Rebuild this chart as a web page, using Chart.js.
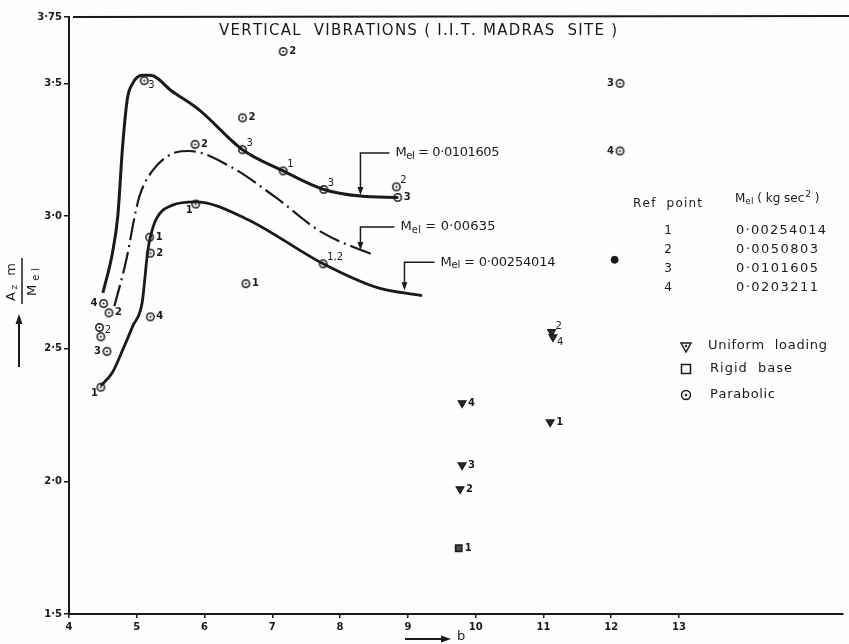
<!DOCTYPE html>
<html>
<head>
<meta charset="utf-8">
<script src="https://cdn.jsdelivr.net/npm/chart.js@4.4.1/dist/chart.umd.min.js"></script>
<style>
  html, body { margin: 0; padding: 0; background: #fefefe; }
  #wrap { width: 849px; height: 644px; position: relative; }
</style>
</head>
<body>
<div id="wrap"><canvas id="chart" width="849" height="644"></canvas></div>
<script>
// Axis ticks
const xTicks = [4, 5, 6, 7, 8, 9, 10, 11, 12, 13];
const yTicks = [1.5, 2.0, 2.5, 3.0, 3.5, 3.75];
const yTickLabels = ['1·5', '2·0', '2·5', '3·0', '3·5', '3·75'];

// Fitted curves
const curveHiX = [4.50, 4.64, 4.72, 4.79, 4.86, 4.94, 5.08, 5.20, 5.52, 5.92, 6.56, 7.16, 7.76, 8.30, 8.85];
const curveHiY = [2.71, 2.86, 3.00, 3.26, 3.44, 3.50, 3.53, 3.53, 3.47, 3.40, 3.25, 3.17, 3.10, 3.075, 3.07];
const curveMidX = [4.67, 4.85, 4.97, 5.04, 5.23, 5.58, 5.77, 6.39, 7.05, 7.72, 8.52];
const curveMidY = [2.66, 2.84, 3.00, 3.075, 3.17, 3.24, 3.245, 3.185, 3.07, 2.94, 2.85];
const curveLoX = [4.47, 4.64, 4.80, 4.94, 5.08, 5.16, 5.20, 5.29, 5.52, 5.87, 6.61, 7.75, 8.55, 9.21];
const curveLoY = [2.36, 2.41, 2.50, 2.585, 2.675, 2.864, 2.92, 2.99, 3.04, 3.053, 2.99, 2.82, 2.73, 2.70];

// Parabolic points with ref point numbers
const parabolicX = [7.16, 5.11, 6.56, 5.86, 6.56, 7.16, 7.76, 8.83, 8.85, 5.87, 5.19, 5.20, 7.75, 6.61, 4.51, 4.59, 5.20, 4.45, 4.47, 4.56, 4.47, 12.13, 12.13];
const parabolicY = [3.62, 3.51, 3.37, 3.27, 3.25, 3.17, 3.10, 3.11, 3.07, 3.045, 2.92, 2.86, 2.82, 2.745, 2.67, 2.635, 2.62, 2.58, 2.545, 2.49, 2.355, 3.50, 3.245];
const parabolicRef = ['2', '3', '2', '2', '3', '1', '3', '2', '3', '1', '1', '2', '1,2', '1', '4', '2', '4', '', '2', '3', '1', '3', '4'];

// Uniform loading points
const uniformX = [9.80, 11.10, 9.80, 9.77, 11.12, 11.14];
const uniformY = [2.295, 2.223, 2.061, 1.971, 2.563, 2.544];
const uniformRef = ['4', '1', '3', '2', '2', '4'];

// Rigid base point
const rigidX = [9.75];
const rigidY = [1.748];
const rigidRef = ['1'];

// Unlabelled solid point
const solidX = [12.05];
const solidY = [2.835];

// Curve annotations (arrow tip on each curve)
const annoX = [8.30, 8.30, 8.95];
const annoY = [3.079, 2.872, 2.72];
const annoValue = ['= 0·0101605', '= 0·00635', '= 0·00254014'];

// Ref point table
const refPoints = ['1', '2', '3', '4'];
const refMel = ['0·00254014', '0·0050803', '0·0101605', '0·0203211'];

// label placement (layout only)
const parabolicPos = ['r', 'dr', 'r', 'r', 'ur', 'ur', 'ur', 'ur', 'r', 'dl', 'r', 'r', 'ur', 'r', 'l', 'r', 'r', '', 'ur', 'l', 'dl', 'l', 'l'];
const uniformPos = ['r', 'r', 'r', 'r', 'ur', 'dr'];
const annoRise = [42, 23, 28];
const annoRun = [29, 34, 30];
const annoWidth = [104, 95, 115];

const INK = '#1a1a1a';
const FAMILY = '"DejaVu Sans", sans-serif';

const toXY = (xs, ys) => xs.map((x, i) => ({ x: x, y: ys[i] }));

// circle with centre dot, as used on the scan
function ringDot() {
    const c = document.createElement('canvas');
    c.width = 11; c.height = 11;
    const g = c.getContext('2d');
    g.fillStyle = '#fff';
    g.strokeStyle = INK;
    g.lineWidth = 1.5;
    g.beginPath(); g.arc(5.5, 5.5, 3.7, 0, Math.PI * 2); g.fill(); g.stroke();
    g.fillStyle = INK;
    g.beginPath(); g.arc(5.5, 5.5, 1.1, 0, Math.PI * 2); g.fill();
    return c;
}

// draws text char by char, spread to a target width
function drawRich(ctx, segs, x, y, width) {
    const chars = [];
    segs.forEach(s => {
        ctx.font = (s.weight || 'normal') + ' ' + s.size + 'px ' + FAMILY;
        for (const ch of s.t) chars.push({ c: ch, font: ctx.font, dy: s.dy || 0, w: ctx.measureText(ch).width });
    });
    const natural = chars.reduce((a, b) => a + b.w, 0);
    const gap = width && chars.length > 1 ? (width - natural) / (chars.length - 1) : 0;
    let cx = x;
    ctx.textAlign = 'left';
    ctx.textBaseline = 'middle';
    chars.forEach(ch => {
        ctx.font = ch.font;
        ctx.fillText(ch.c, cx, y + ch.dy);
        cx += ch.w + gap;
    });
    return cx;
}

const melSegs = (size, rest) => [
    { t: 'M', size: size },
    { t: 'el', size: size - 3, dy: 3 },
    { t: rest, size: size }
];

const decorPlugin = {
    id: 'decor',
    beforeDraw(chart) {
        const ctx = chart.ctx;
        ctx.save();
        ctx.fillStyle = '#fefefe';
        ctx.fillRect(0, 0, chart.width, chart.height);
        ctx.restore();
    },
    afterDatasetsDraw(chart) {
        const ctx = chart.ctx;
        const area = chart.chartArea;
        const xs = chart.scales.x, ys = chart.scales.y;
        ctx.save();
        ctx.fillStyle = INK;
        ctx.strokeStyle = INK;

        // top frame line
        ctx.lineWidth = 2;
        ctx.beginPath();
        ctx.moveTo(area.left + 4, area.top);
        ctx.lineTo(chart.width, area.top - 1);
        ctx.stroke();

        // title
        drawRich(ctx, [{ t: 'VERTICAL  VIBRATIONS ( I.I.T. MADRAS  SITE )', size: 15 }], 219, 31, 398);

        // y axis label (rotated fraction) and arrow
        ctx.save();
        ctx.translate(22, 281);
        ctx.rotate(-Math.PI / 2);
        drawRich(ctx, [{ t: 'A', size: 13 }, { t: 'z', size: 9, dy: 3 }, { t: ' m', size: 13 }], -20, -10, 38);
        drawRich(ctx, melSegs(13, ''), -15, 11, 28);
        ctx.lineWidth = 1.5;
        ctx.beginPath(); ctx.moveTo(-23, 0); ctx.lineTo(23, 0); ctx.stroke();
        ctx.restore();
        ctx.lineWidth = 2;
        ctx.beginPath(); ctx.moveTo(19, 367); ctx.lineTo(19, 322); ctx.stroke();
        ctx.beginPath(); ctx.moveTo(19, 314); ctx.lineTo(15.5, 324); ctx.lineTo(22.5, 324); ctx.closePath(); ctx.fill();

        // x axis label arrow
        ctx.beginPath(); ctx.moveTo(405, 639); ctx.lineTo(442, 639); ctx.stroke();
        ctx.beginPath(); ctx.moveTo(451, 639); ctx.lineTo(441, 635.5); ctx.lineTo(441, 642.5); ctx.closePath(); ctx.fill();
        drawRich(ctx, [{ t: 'b', size: 13 }], 457, 637, 0);

        // point labels
        chart.data.datasets.forEach((ds, di) => {
            if (!ds.refLabels) return;
            const meta = chart.getDatasetMeta(di);
            meta.data.forEach((pt, j) => {
                const txt = ds.refLabels[j];
                if (!txt) return;
                const pos = ds.refPos[j];
                ctx.font = 'bold 10px ' + FAMILY;
                ctx.textBaseline = 'middle';
                let x = pt.x, y = pt.y;
                if (pos === 'r') { ctx.textAlign = 'left'; x += 6; }
                else if (pos === 'l') { ctx.textAlign = 'right'; x -= 6; }
                else if (pos === 'ur') { ctx.textAlign = 'left'; x += 4; y -= 6; ctx.font = '10px ' + FAMILY; }
                else if (pos === 'dr') { ctx.textAlign = 'left'; x += 4; y += 5; ctx.font = '10px ' + FAMILY; }
                else if (pos === 'dl') { ctx.textAlign = 'right'; x -= 3; y += 6; }
                ctx.fillText(txt, x, y);
            });
        });

        // M_el annotations with bracket arrows
        annoX.forEach((v, i) => {
            const tx = xs.getPixelForValue(v);
            const ty = ys.getPixelForValue(annoY[i]);
            const top = ty - annoRise[i];
            ctx.lineWidth = 1.5;
            ctx.beginPath();
            ctx.moveTo(tx + annoRun[i], top);
            ctx.lineTo(tx, top);
            ctx.lineTo(tx, ty - 6);
            ctx.stroke();
            ctx.beginPath();
            ctx.moveTo(tx, ty); ctx.lineTo(tx - 3, ty - 8); ctx.lineTo(tx + 3, ty - 8); ctx.closePath(); ctx.fill();
            drawRich(ctx, melSegs(13, ' ' + annoValue[i]), tx + annoRun[i] + 6, top, annoWidth[i]);
        });

        // ref point table
        drawRich(ctx, [{ t: 'Ref  point', size: 12 }], 633, 204, 69);
        const endX = drawRich(ctx, melSegs(12, ' ( kg sec'), 735, 199, 0);
        drawRich(ctx, [{ t: '2', size: 9, dy: -4 }, { t: ' )', size: 12 }], endX + 1, 199, 0);
        const rowY = [231, 250, 269, 288];
        refPoints.forEach((r, i) => {
            ctx.font = '12px ' + FAMILY;
            ctx.textAlign = 'center';
            ctx.textBaseline = 'middle';
            ctx.fillText(r, 668, rowY[i]);
            drawRich(ctx, [{ t: refMel[i], size: 13 }], 736, rowY[i], i === 0 ? 90 : 82);
        });

        // symbol legend
        ctx.lineWidth = 1.5;
        ctx.beginPath();
        ctx.moveTo(681, 343); ctx.lineTo(691, 343); ctx.lineTo(686, 352); ctx.closePath(); ctx.stroke();
        ctx.beginPath(); ctx.arc(686, 346, 1.2, 0, Math.PI * 2); ctx.fill();
        ctx.strokeRect(681.5, 364.5, 9, 9);
        ctx.beginPath(); ctx.arc(686, 395, 4.5, 0, Math.PI * 2); ctx.stroke();
        ctx.beginPath(); ctx.arc(686, 395, 1.3, 0, Math.PI * 2); ctx.fill();
        drawRich(ctx, [{ t: 'Uniform  loading', size: 13 }], 708, 346, 119);
        drawRich(ctx, [{ t: 'Rigid  base', size: 13 }], 710, 369, 82);
        drawRich(ctx, [{ t: 'Parabolic', size: 13 }], 710, 395, 65);

        ctx.restore();
    }
};

const ring = ringDot();
const tickFont = { family: FAMILY, size: 10, weight: 'bold' };

new Chart(document.getElementById('chart'), {
    type: 'scatter',
    data: {
        datasets: [
            {
                type: 'line',
                data: toXY(curveHiX, curveHiY),
                borderColor: INK,
                borderWidth: 3,
                pointRadius: 0,
                fill: false,
                cubicInterpolationMode: 'monotone'
            },
            {
                type: 'line',
                data: toXY(curveMidX, curveMidY),
                borderColor: INK,
                borderWidth: 2.2,
                borderDash: [22, 5, 2, 5],
                pointRadius: 0,
                fill: false,
                cubicInterpolationMode: 'monotone'
            },
            {
                type: 'line',
                data: toXY(curveLoX, curveLoY),
                borderColor: INK,
                borderWidth: 2.8,
                pointRadius: 0,
                fill: false,
                cubicInterpolationMode: 'monotone'
            },
            {
                data: toXY(parabolicX, parabolicY),
                pointStyle: ring,
                pointRadius: 4,
                refLabels: parabolicRef,
                refPos: parabolicPos
            },
            {
                data: toXY(uniformX, uniformY),
                pointStyle: 'triangle',
                rotation: 180,
                pointRadius: 4.5,
                backgroundColor: '#2b2b2b',
                borderColor: INK,
                borderWidth: 1.2,
                refLabels: uniformRef,
                refPos: uniformPos
            },
            {
                data: toXY(rigidX, rigidY),
                pointStyle: 'rect',
                pointRadius: 4.5,
                backgroundColor: '#4a4a4a',
                borderColor: INK,
                borderWidth: 1.5,
                refLabels: rigidRef,
                refPos: ['r']
            },
            {
                data: toXY(solidX, solidY),
                pointStyle: 'circle',
                pointRadius: 3.5,
                backgroundColor: INK,
                borderColor: INK,
                borderWidth: 1
            }
        ]
    },
    options: {
        responsive: false,
        animation: false,
        layout: { padding: { top: 17, left: 0, right: 0, bottom: 0 } },
        plugins: {
            legend: { display: false },
            tooltip: { enabled: false },
            title: { display: false }
        },
        scales: {
            x: {
                type: 'linear',
                min: 4,
                max: 15.42,
                afterBuildTicks: s => { s.ticks = xTicks.map(v => ({ value: v })); },
                afterFit: s => { s.height = 30; },
                border: { color: INK, width: 2 },
                grid: { drawOnChartArea: false, tickLength: 4, color: INK, lineWidth: 1.5 },
                ticks: { color: INK, font: tickFont, padding: 3, maxRotation: 0, callback: v => String(v) }
            },
            y: {
                min: 1.5,
                max: 3.75,
                afterBuildTicks: s => { s.ticks = yTicks.map(v => ({ value: v })); },
                afterFit: s => { s.width = 69; },
                border: { color: INK, width: 2 },
                grid: { drawOnChartArea: false, tickLength: 5, color: INK, lineWidth: 1.5 },
                ticks: { color: INK, font: tickFont, padding: 2, callback: (v, i) => yTickLabels[i] }
            }
        }
    },
    plugins: [decorPlugin]
});
</script>
</body>
</html>
